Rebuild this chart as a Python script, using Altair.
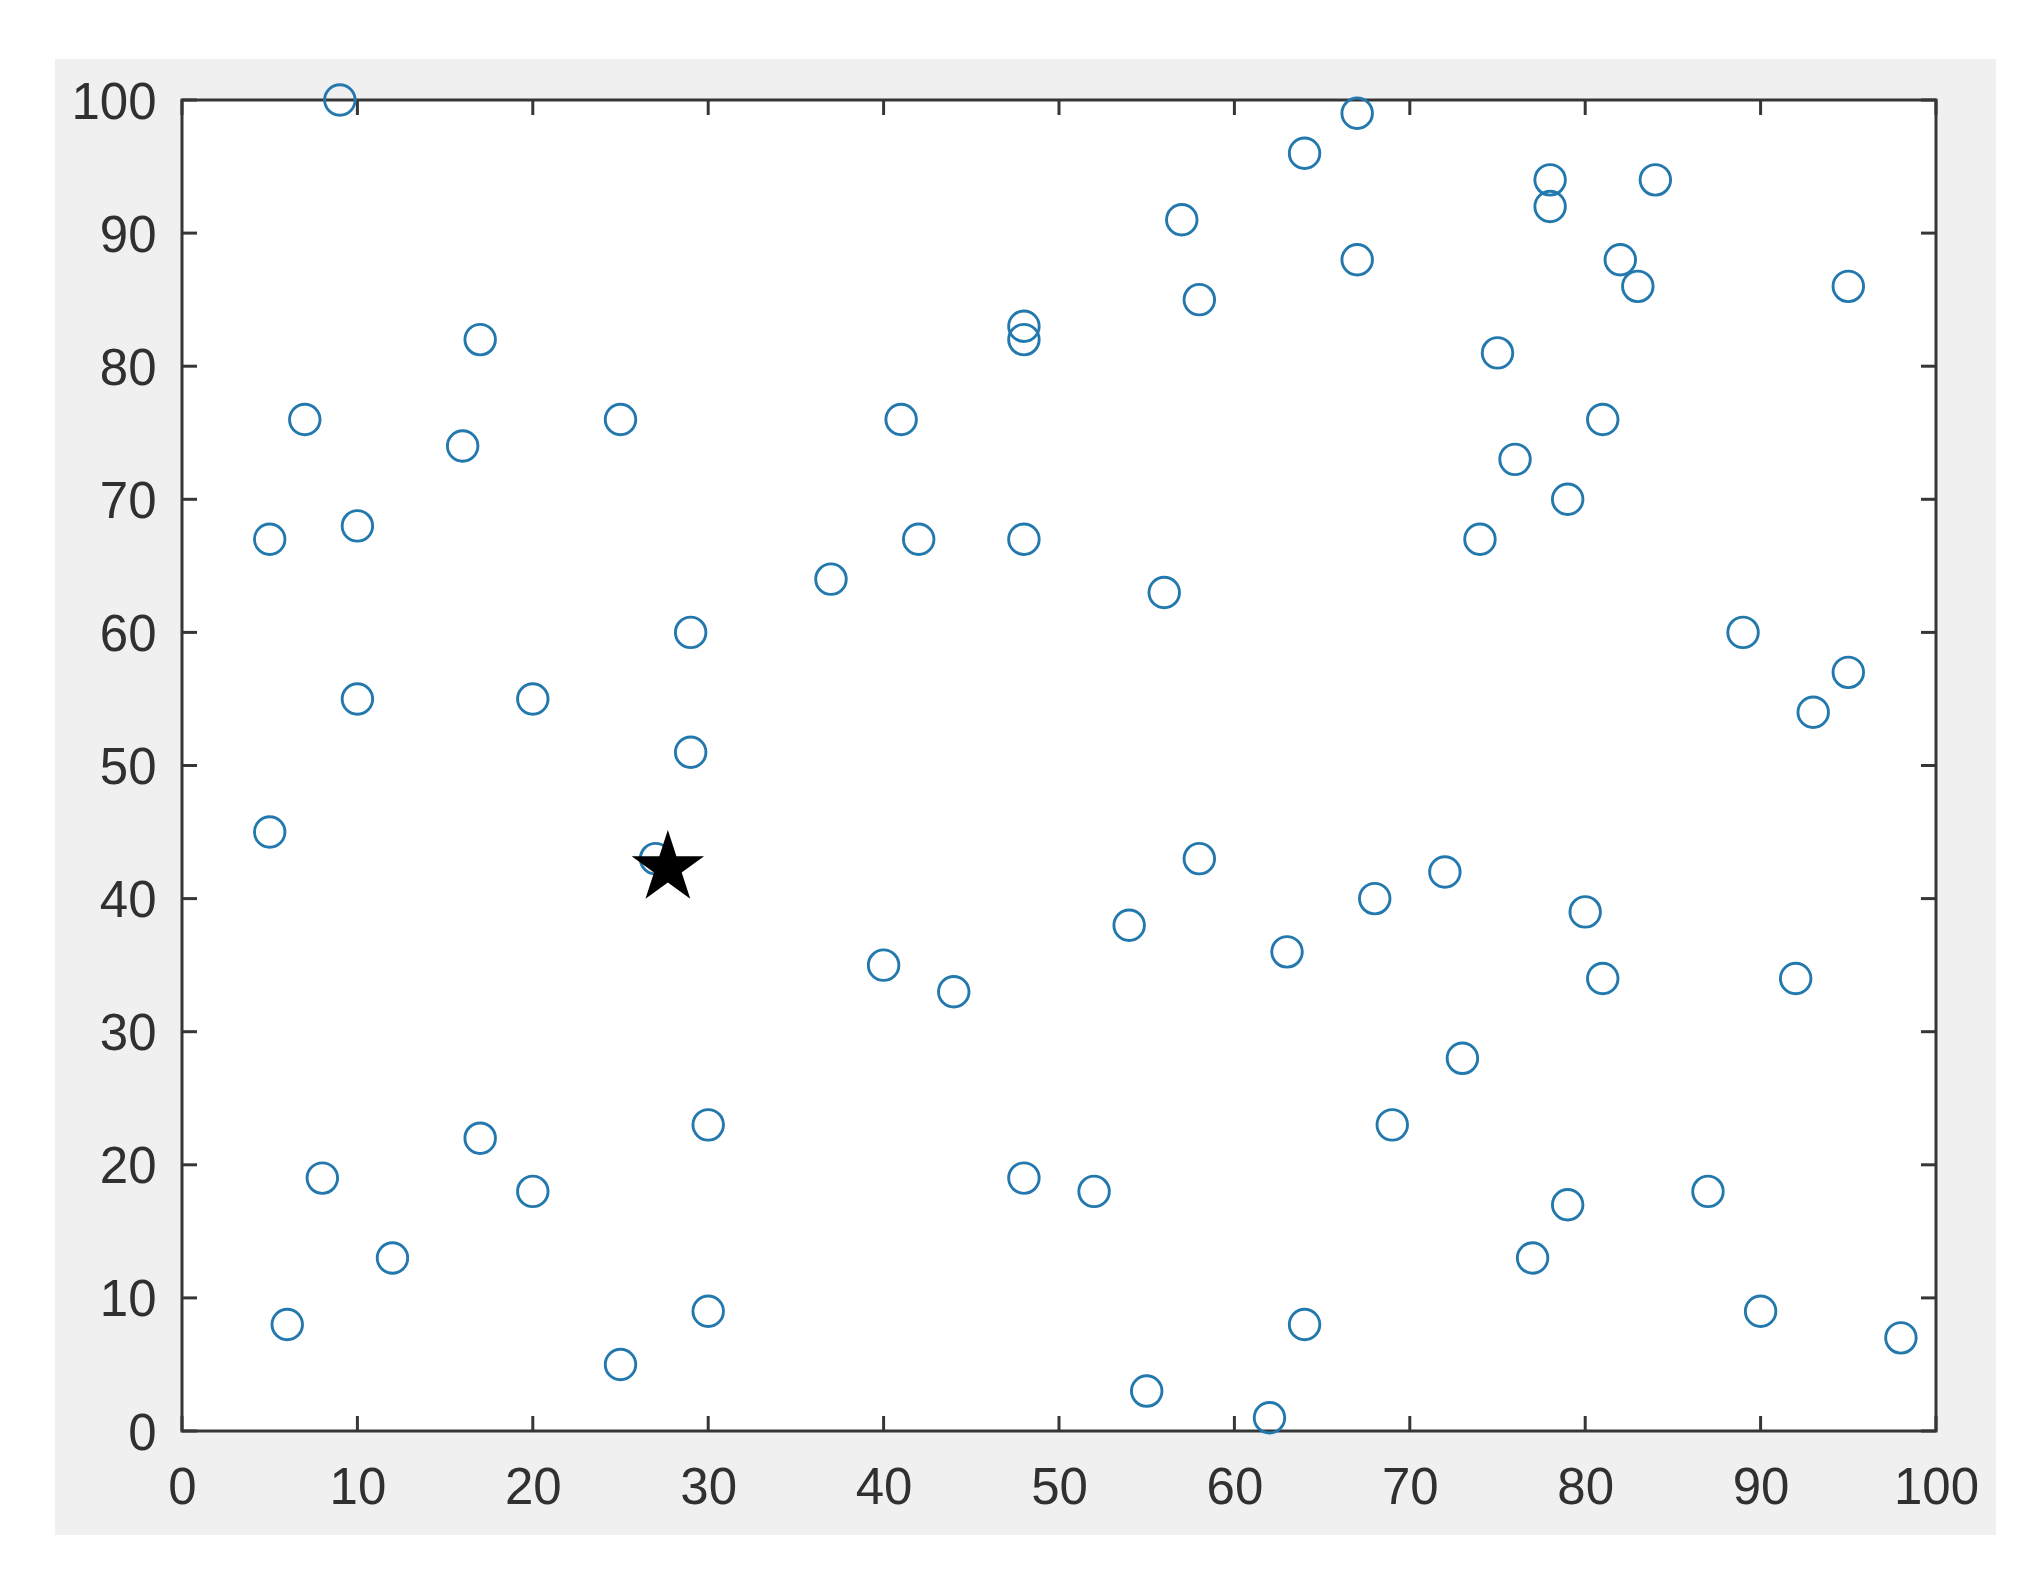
import altair as alt
import pandas as pd

# Scatter points (open circles)
xs = [9, 17, 7, 16, 25, 5, 10, 10, 20, 29, 29, 5, 27, 37, 41, 42, 48, 48, 48, 57,
      58, 64, 67, 67, 56, 78, 78, 84, 82, 83, 95, 75, 81, 76, 79, 74, 89, 95, 93, 58,
      72, 68, 80, 54, 63, 81, 92, 40, 44, 73, 30, 69, 17, 8, 20, 48, 52, 87, 79, 12,
      77, 6, 30, 64, 90, 98, 25, 55, 62]
ys = [100, 82, 76, 74, 76, 67, 68, 55, 55, 60, 51, 45, 43, 64, 76, 67, 83, 82, 67, 91,
      85, 96, 99, 88, 63, 94, 92, 94, 88, 86, 86, 81, 76, 73, 70, 67, 60, 57, 54, 43,
      42, 40, 39, 38, 36, 34, 34, 35, 33, 28, 23, 23, 22, 19, 18, 19, 18, 18, 17, 13,
      13, 8, 9, 8, 9, 7, 5, 3, 1]

# Star marker
star_x = [27.7]
star_y = [42.3]

# Tick values
x_ticks = [0, 10, 20, 30, 40, 50, 60, 70, 80, 90, 100]
y_ticks = [0, 10, 20, 30, 40, 50, 60, 70, 80, 90, 100]

W = 1754
H = 1331
TICK = 15
AXIS_COLOR = "#363636"
POINT_COLOR = "#2379ad"

pts = pd.DataFrame({"x": xs, "y": ys})
star = pd.DataFrame({"x": star_x, "y": star_y})
xt = pd.DataFrame({"t": x_ticks})
yt = pd.DataFrame({"t": y_ticks})

xscale = alt.Scale(domain=[0, 100], nice=False, zero=False)
yscale = alt.Scale(domain=[0, 100], nice=False, zero=False)

xaxis = alt.Axis(values=x_ticks, domain=False, ticks=False, grid=False, title=None,
                 labelFont="Liberation Sans", labelFontSize=51, labelColor="#303030",
                 labelPadding=32, zindex=1, labelFlush=False, labelOverlap=False)
yaxis = alt.Axis(values=y_ticks, domain=False, ticks=False, grid=False, title=None,
                 labelFont="Liberation Sans", labelFontSize=51, labelColor="#303030",
                 labelPadding=26, labelOffset=3, zindex=1, labelFlush=False,
                 labelOverlap=False)

one = alt.Data(values=[{"a": 1}])

gray_bg = alt.Chart(one).mark_rect(color="#f0f0f0").encode(
    x=alt.value(-127), x2=alt.value(1816), y=alt.value(-41), y2=alt.value(1435)
)
white_bg = alt.Chart(one).mark_rect(color="white").encode(
    x=alt.value(0), x2=alt.value(W), y=alt.value(0), y2=alt.value(H)
)
box = alt.Chart(one).mark_rect(filled=False, stroke=AXIS_COLOR, strokeWidth=3).encode(
    x=alt.value(0), x2=alt.value(W), y=alt.value(0), y2=alt.value(H)
)

bottom_ticks = alt.Chart(xt).mark_rule(color=AXIS_COLOR, strokeWidth=3).encode(
    x=alt.X("t:Q", scale=xscale, axis=xaxis), y=alt.value(H), y2=alt.value(H - TICK)
)
top_ticks = alt.Chart(xt).mark_rule(color=AXIS_COLOR, strokeWidth=3).encode(
    x=alt.X("t:Q", scale=xscale), y=alt.value(0), y2=alt.value(TICK)
)
left_ticks = alt.Chart(yt).mark_rule(color=AXIS_COLOR, strokeWidth=3).encode(
    y=alt.Y("t:Q", scale=yscale, axis=yaxis), x=alt.value(0), x2=alt.value(TICK)
)
right_ticks = alt.Chart(yt).mark_rule(color=AXIS_COLOR, strokeWidth=3).encode(
    y=alt.Y("t:Q", scale=yscale), x=alt.value(W), x2=alt.value(W - TICK)
)

circles = alt.Chart(pts).mark_point(
    shape="circle", filled=False, color=POINT_COLOR, strokeWidth=2.9, size=930, opacity=1
).encode(
    x=alt.X("x:Q", scale=xscale),
    y=alt.Y("y:Q", scale=yscale),
)

STAR_PATH = ("M0,-1L0.2245,-0.309L0.9511,-0.309L0.3633,0.118L0.5878,0.809L0,0.382"
             "L-0.5878,0.809L-0.3633,0.118L-0.9511,-0.309L-0.2245,-0.309Z")
star_mark = alt.Chart(star).mark_point(
    shape=STAR_PATH, filled=True, color="black", size=5800, opacity=1, strokeWidth=0
).encode(
    x=alt.X("x:Q", scale=xscale),
    y=alt.Y("y:Q", scale=yscale),
)

chart = alt.layer(
    gray_bg, white_bg, box, bottom_ticks, top_ticks, left_ticks, right_ticks,
    circles, star_mark
).properties(
    width=W, height=H,
    background="white",
    padding={"left": 174, "top": 92, "right": 60, "bottom": 120},
    autosize=alt.AutoSizeParams(type="none"),
).configure_view(stroke=None)

chart.save("out.html", embed_options={"renderer": "svg", "actions": False})
